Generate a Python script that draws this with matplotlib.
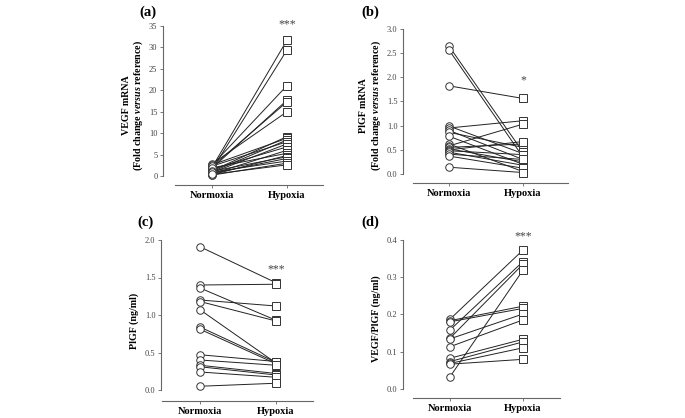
import numpy as np
import matplotlib
matplotlib.use("Agg")
import matplotlib.pyplot as plt

plt.rcParams['font.family'] = ['Liberation Serif', 'DejaVu Serif']
plt.rcParams['mathtext.fontset'] = 'custom'
plt.rcParams['mathtext.it'] = 'Liberation Serif:italic:bold'
plt.rcParams['mathtext.rm'] = 'Liberation Serif:bold'

groups = ["Normoxia", "Hypoxia"]

# (a) VEGF mRNA
a_norm = [2.0, 1.5, 2.5, 1.8, 2.2, 2.8, 1.2, 2.6, 1.0, 2.3, 0.8, 1.6, 0.5, 1.9, 0.3, 1.1, 0.6, 0.9, 0.2, 0.4]
a_hyp = [31.7, 29.4, 21.1, 17.7, 17.3, 15.0, 9.2, 8.8, 8.4, 8.0, 7.5, 6.8, 6.0, 5.3, 4.8, 4.5, 4.1, 3.5, 3.0, 2.6]

# (b) PlGF mRNA
b_norm = [2.64, 2.56, 1.82, 0.99, 0.95, 0.90, 0.86, 0.78, 0.62, 0.58, 0.55, 0.52, 0.50, 0.48, 0.45, 0.41, 0.37, 0.14]
b_hyp = [0.45, 0.35, 1.56, 0.42, 1.10, 0.30, 0.55, 0.20, 0.05, 1.03, 0.62, 0.25, 0.67, 0.40, 0.18, 0.30, 0.12, 0.03]

# (c) PlGF protein
c_norm = [1.91, 1.40, 1.36, 1.20, 1.18, 1.07, 0.84, 0.81, 0.47, 0.40, 0.33, 0.31, 0.24, 0.05]
c_hyp = [1.43, 1.41, 0.93, 1.12, 0.92, 0.36, 0.37, 0.35, 0.38, 0.33, 0.22, 0.20, 0.17, 0.09]

# (d) VEGF/PlGF ratio
d_norm = [0.187, 0.183, 0.180, 0.158, 0.136, 0.134, 0.113, 0.082, 0.073, 0.068, 0.066, 0.032]
d_hyp = [0.373, 0.222, 0.216, 0.342, 0.335, 0.201, 0.185, 0.133, 0.126, 0.110, 0.079, 0.319]

W, H = 685, 418
fig = plt.figure(figsize=(W / 100, H / 100), dpi=100)


def panel(rect_px, x_px, zero_px, top_px, ymax, spine_y, xspine_start,
          norm, hyp, yticks, fmt, ylabel, tag, stars, star_y, labelpad):
    left, right = rect_px
    xn, xh = x_px
    sx = xh - xn
    sy = (zero_px - top_px) / ymax
    ax = fig.add_axes([left / W, 1 - spine_y / H, (right - left) / W, (spine_y - top_px) / H])
    ax.set_xlim((left - xn) / sx, (right - xn) / sx)
    ax.set_ylim(-(spine_y - zero_px) / sy, ymax)
    for s in ['top', 'right']:
        ax.spines[s].set_visible(False)
    ax.spines['left'].set_bounds(0, ymax)
    ax.spines['bottom'].set_bounds((xspine_start - xn) / sx, (right - xn) / sx)
    for s in ['left', 'bottom']:
        ax.spines[s].set_color('#666666')
        ax.spines[s].set_linewidth(0.8)

    for n, h in zip(norm, hyp):
        ax.plot([0, 1], [n, h], color='#222222', lw=0.7, zorder=2, clip_on=False)
    ax.plot(np.zeros(len(norm)), norm, 'o', ms=5.4, mfc='white', mec='#333333',
            mew=0.7, zorder=3, clip_on=False)
    ax.plot(np.ones(len(hyp)), hyp, 's', ms=5.4, mfc='white', mec='#333333',
            mew=0.7, zorder=3, clip_on=False)

    ax.set_xticks([0, 1])
    ax.set_xticklabels(groups, fontsize=7.5, fontweight='bold')
    ax.set_yticks(yticks)
    ax.set_yticklabels([fmt.format(t) for t in yticks], fontsize=6, color='#444444')
    ax.tick_params(axis='both', length=2.5, width=0.6, color='#666666', pad=1.5)
    ax.set_ylabel(ylabel, fontsize=7.2, fontweight='bold', labelpad=labelpad, linespacing=1.15)
    ax.text(1, star_y, stars, ha='center', va='center', fontsize=8.5, color='#444444')
    fig.text(tag[0] / W, 1 - tag[1] / H, tag[2], fontsize=10.5, fontweight='bold',
             ha='left', va='center')
    return ax


panel((163, 323), (212, 287), 176, 26, 35, 185, 175, a_norm, a_hyp,
      np.arange(0, 36, 5), "{:.0f}",
      "VEGF mRNA\n(Fold change $\\it{versus}$ reference)", (139, 12, "(a)"),
      "***", 35.3, 2.5)
panel((403, 568), (449, 523), 174, 28.7, 3.0, 183, 413, b_norm, b_hyp,
      np.arange(0, 3.01, 0.5), "{:.1f}",
      "PlGF mRNA\n(Fold change $\\it{versus}$ reference)", (361, 12, "(b)"),
      "*", 1.93, 2.5)
panel((161, 313), (200, 276), 390, 240, 2.0, 401, 162, c_norm, c_hyp,
      np.arange(0, 2.01, 0.5), "{:.1f}",
      "PlGF (ng/ml)", (137, 222, "(c)"),
      "***", 1.61, 4)
panel((403, 560), (450, 523), 388.7, 240, 0.4, 398, 413, d_norm, d_hyp,
      np.arange(0, 0.41, 0.1), "{:.1f}",
      "VEGF/PlGF (ng/ml)", (361, 222, "(d)"),
      "***", 0.41, 4)

fig.savefig("out.png", dpi=100)
